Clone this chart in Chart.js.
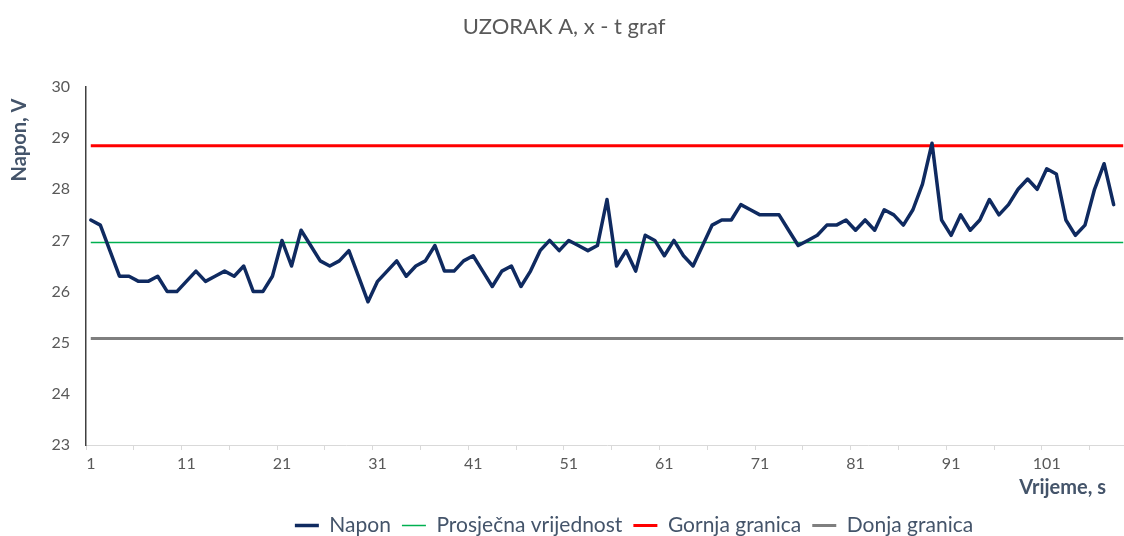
<!DOCTYPE html>
<html>
<head>
<meta charset="utf-8">
<script src="https://cdn.jsdelivr.net/npm/chart.js@4.4.1/dist/chart.umd.min.js"></script>
<style>
  html, body { margin: 0; padding: 0; background: #fff; overflow: hidden; }
  #wrap { width: 1130px; height: 536px; }
</style>
</head>
<body>
<div id="wrap"><canvas id="graf" width="1130" height="536"></canvas></div>
<script>
// vrijeme u sekundama (kategorije 1..109)
const vrijeme = [];
for (let i = 1; i <= 109; i++) vrijeme.push(String(i));

// izmjereni napon, V
const napon = [
  27.4, 27.3, 26.8, 26.3, 26.3, 26.2, 26.2, 26.3, 26.0, 26.0,
  26.2, 26.4, 26.2, 26.3, 26.4, 26.3, 26.5, 26.0, 26.0, 26.3,
  27.0, 26.5, 27.2, 26.9, 26.6, 26.5, 26.6, 26.8, 26.3, 25.8,
  26.2, 26.4, 26.6, 26.3, 26.5, 26.6, 26.9, 26.4, 26.4, 26.6,
  26.7, 26.4, 26.1, 26.4, 26.5, 26.1, 26.4, 26.8, 27.0, 26.8,
  27.0, 26.9, 26.8, 26.9, 27.8, 26.5, 26.8, 26.4, 27.1, 27.0,
  26.7, 27.0, 26.7, 26.5, 26.9, 27.3, 27.4, 27.4, 27.7, 27.6,
  27.5, 27.5, 27.5, 27.2, 26.9, 27.0, 27.1, 27.3, 27.3, 27.4,
  27.2, 27.4, 27.2, 27.6, 27.5, 27.3, 27.6, 28.1, 28.9, 27.4,
  27.1, 27.5, 27.2, 27.4, 27.8, 27.5, 27.7, 28.0, 28.2, 28.0,
  28.4, 28.3, 27.4, 27.1, 27.3, 28.0, 28.5, 27.7
];

// granice
const prosjek = 26.96;
const gornja = 28.85;
const donja = 25.08;

const yTicks = [23, 24, 25, 26, 27, 28, 29, 30];

const sivo = '#595959';
const naslovBoja = '#44546a';
const font = 'Lato';

function vodoravna(v) {
  return [{ x: vrijeme[0], y: v }, { x: vrijeme[vrijeme.length - 1], y: v }];
}

// pomak legende i naslovi osi
const osi = {
  id: 'osi',
  afterLayout(chart) {
    chart.legend.left += 70;
    chart.legend.right += 70;
    chart.legend.top += 10;
    chart.legend.bottom += 10;
  },
  afterDraw(chart) {
    const { ctx, chartArea } = chart;
    ctx.save();
    ctx.fillStyle = naslovBoja;
    ctx.font = 'bold 20px ' + font;
    ctx.textBaseline = 'middle';
    ctx.textAlign = 'right';
    ctx.fillText('Vrijeme, s', chartArea.right - 22, chartArea.bottom + 43);
    ctx.translate(20, chartArea.top + 53);
    ctx.rotate(-Math.PI / 2);
    ctx.textAlign = 'center';
    ctx.fillText('Napon, V', 0, 0);
    ctx.restore();
  }
};

const ctx = document.getElementById('graf').getContext('2d');

new Chart(ctx, {
  type: 'line',
  data: {
    labels: vrijeme,
    datasets: [
      {
        label: 'Napon',
        data: napon,
        borderColor: '#0f2a60',
        borderWidth: 3.5,
        borderJoinStyle: 'round',
        borderCapStyle: 'round',
        pointRadius: 0,
        pointStyle: 'line',
        tension: 0
      },
      {
        label: 'Prosječna vrijednost',
        data: vodoravna(prosjek),
        borderColor: '#00b050',
        borderWidth: 1.5,
        pointRadius: 0,
        pointStyle: 'line'
      },
      {
        label: 'Gornja granica',
        data: vodoravna(gornja),
        borderColor: '#ff0000',
        borderWidth: 3,
        pointRadius: 0,
        pointStyle: 'line'
      },
      {
        label: 'Donja granica',
        data: vodoravna(donja),
        borderColor: '#7f7f7f',
        borderWidth: 3,
        pointRadius: 0,
        pointStyle: 'line'
      }
    ]
  },
  options: {
    responsive: false,
    animation: false,
    layout: { padding: { left: 0, right: 2, top: 0, bottom: 0 } },
    plugins: {
      title: {
        display: true,
        text: 'UZORAK A, x - t graf',
        color: sivo,
        font: { family: font, size: 22, weight: 'normal' },
        padding: { top: 14, bottom: 46.6 }
      },
      legend: {
        position: 'bottom',
        labels: {
          usePointStyle: true,
          pointStyleWidth: 24,
          color: naslovBoja,
          font: { family: font, size: 21 },
          padding: 11
        }
      },
      tooltip: { enabled: false }
    },
    scales: {
      x: {
        offset: true,
        afterFit(s) { s.height = 49; },
        grid: {
          offset: true,
          drawOnChartArea: false,
          drawTicks: true,
          tickLength: 5,
          color: c => c.index % 5 === 0 ? '#d9d9d9' : 'rgba(0,0,0,0)'
        },
        border: { color: '#d9d9d9', width: 1 },
        ticks: {
          autoSkip: false,
          maxRotation: 0,
          padding: 4,
          color: sivo,
          font: { family: font, size: 16 },
          callback: function (v, i) { return i % 10 === 0 ? this.getLabelForValue(v) : ''; }
        }
      },
      y: {
        min: yTicks[0],
        max: yTicks[yTicks.length - 1],
        afterFit(s) { s.width = 86; },
        afterBuildTicks(s) { s.ticks = yTicks.map(v => ({ value: v })); },
        grid: { display: false },
        border: { color: '#404040', width: 1.5 },
        ticks: {
          padding: 8,
          color: sivo,
          font: { family: font, size: 16 }
        }
      }
    }
  },
  plugins: [osi]
});
</script>
</body>
</html>
